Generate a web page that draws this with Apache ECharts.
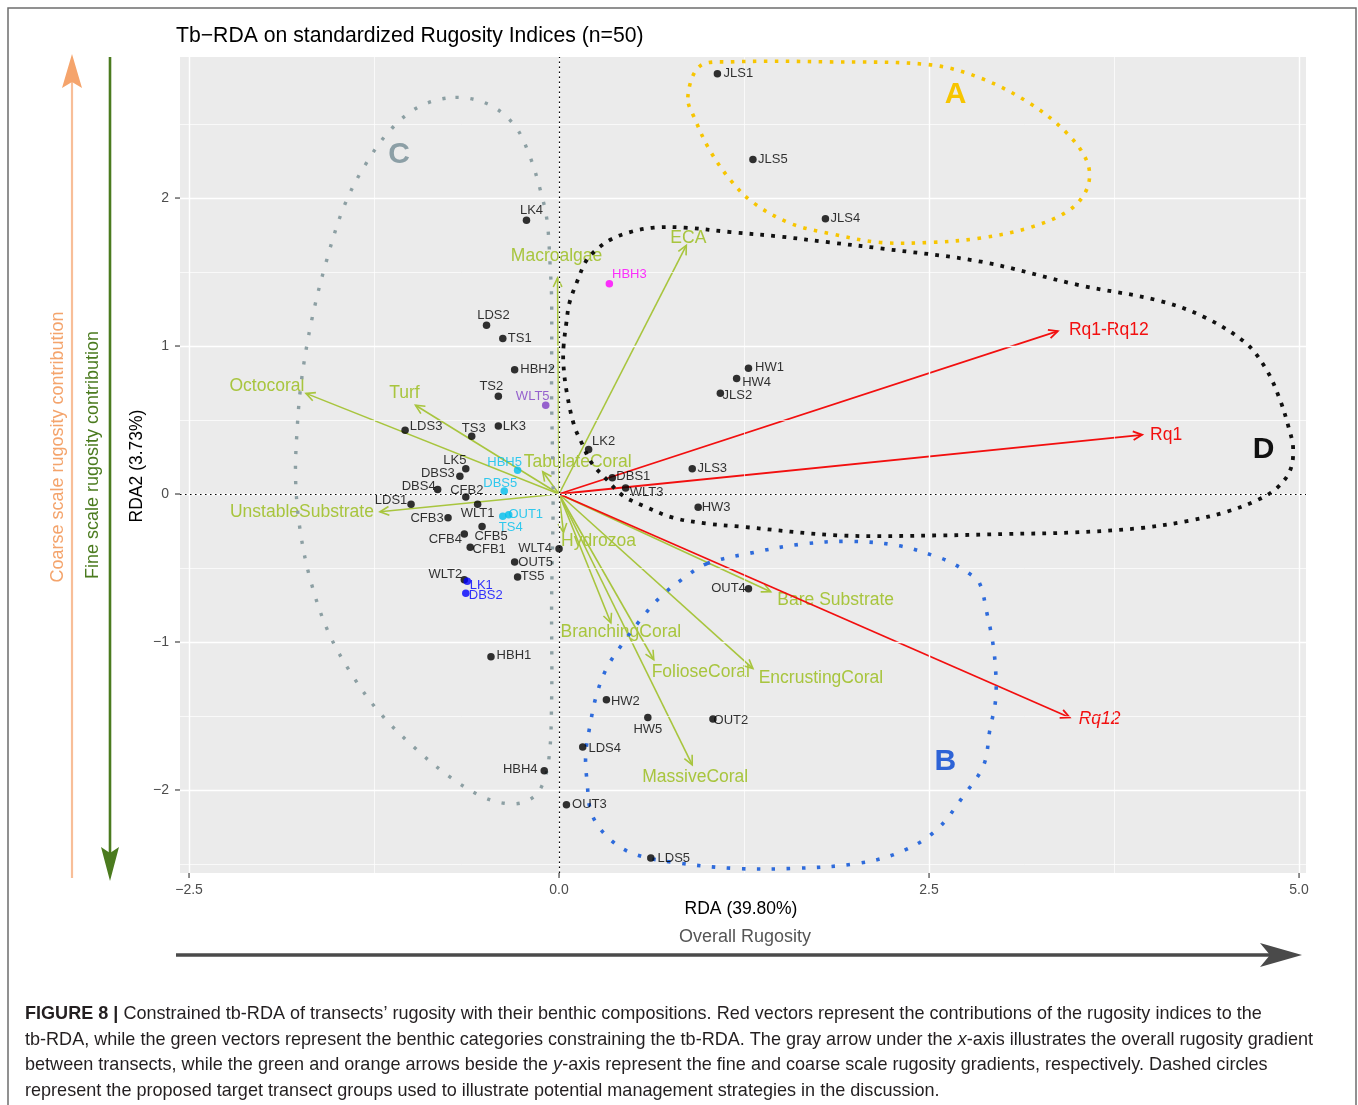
<!DOCTYPE html>
<html><head><meta charset="utf-8">
<script src="https://cdn.jsdelivr.net/npm/echarts@6/dist/echarts.min.js"></script>
<style>html,body{margin:0;padding:0;background:#fff}#main{width:1358px;height:1105px}</style>
</head><body><div id="main"></div><script>
// ---- Site scores (transects) on RDA1 / RDA2 ----
const siteNames = ['JLS1','JLS5','JLS4','LK4','HBH3','LDS2','TS1','HBH2','TS2','WLT5','LDS3','TS3','LK3','HW1','HW4','JLS2','LK2','JLS3','DBS1','WLT3','HW3','LK5','DBS3','DBS4','CFB2','LDS1','WLT1','CFB3','HBH5','DBS5','OUT1','TS4','CFB4','CFB5','CFB1','WLT4','OUT5','TS5','WLT2','LK1','DBS2','OUT4','HBH1','HW2','HW5','OUT2','LDS4','OUT3','LDS5','HBH4'];
const siteRDA1 = [1.07,1.31,1.80,-0.22,0.34,-0.49,-0.38,-0.30,-0.41,-0.09,-1.04,-0.59,-0.41,1.28,1.20,1.09,0.20,0.90,0.36,0.45,0.94,-0.63,-0.67,-0.82,-0.63,-1.00,-0.55,-0.75,-0.28,-0.37,-0.34,-0.38,-0.64,-0.52,-0.60,0.00,-0.30,-0.28,-0.64,-0.62,-0.63,1.28,-0.46,0.32,0.60,1.04,0.16,0.05,0.62,-0.10];
const siteRDA2 = [2.84,2.26,1.86,1.85,1.42,1.14,1.05,0.84,0.66,0.60,0.43,0.39,0.46,0.85,0.78,0.68,0.30,0.17,0.11,0.04,-0.09,0.17,0.12,0.03,-0.02,-0.07,-0.07,-0.16,0.16,0.02,-0.14,-0.15,-0.27,-0.22,-0.36,-0.37,-0.46,-0.56,-0.58,-0.59,-0.67,-0.64,-1.10,-1.39,-1.51,-1.52,-1.71,-2.10,-2.46,-1.87];

// ---- Benthic constraint vectors ----
const benthicNames = ['ECA','Macroalgae','Octocoral','Turf','TabulateCoral','UnstableSubstrate','Hydrozoa','BranchingCoral','FolioseCoral','EncrustingCoral','MassiveCoral','Bare Substrate'];
const benthicRDA1 = [0.86,-0.01,-1.71,-0.97,-0.11,-1.21,0.03,0.35,0.64,1.31,0.90,1.43];
const benthicRDA2 = [1.68,1.46,0.68,0.60,0.15,-0.12,-0.26,-0.87,-1.12,-1.18,-1.83,-0.66];

// ---- Rugosity index vectors ----
const rugosityNames = ['Rq1-Rq12','Rq1','Rq12'];
const rugosityRDA1 = [3.37,3.94,3.45];
const rugosityRDA2 = [1.10,0.40,-1.51];

// ---- Axis ticks ----
const xTicks = [-2.5, 0, 2.5, 5];
const yTicks = [-2, -1, 0, 1, 2];
const xMinor = [-1.25, 1.25, 3.75];
const yMinor = [-2.5, -1.5, -0.5, 0.5, 1.5, 2.5];

// ---- Management target groups (outline vertices, RDA units) ----
const groupA = [[0.87,2.68],[0.95,2.89],[1.16,2.92],[1.83,2.92],[2.51,2.90],[2.85,2.81],[3.18,2.64],[3.43,2.44],[3.57,2.24],[3.57,2.07],[3.45,1.92],[3.18,1.80],[2.85,1.73],[2.51,1.70],[2.17,1.70],[1.83,1.76],[1.56,1.83],[1.31,1.97],[1.16,2.12],[1.02,2.32],[0.92,2.53]];
const groupB = [[1.00,-0.47],[0.84,-0.57],[0.68,-0.70],[0.55,-0.85],[0.43,-1.01],[0.32,-1.18],[0.25,-1.37],[0.21,-1.56],[0.18,-1.76],[0.19,-1.95],[0.22,-2.16],[0.33,-2.32],[0.50,-2.43],[0.78,-2.49],[1.19,-2.53],[1.58,-2.53],[1.99,-2.50],[2.28,-2.43],[2.54,-2.28],[2.74,-2.03],[2.87,-1.83],[2.91,-1.60],[2.95,-1.39],[2.95,-1.19],[2.93,-1.00],[2.89,-0.80],[2.84,-0.60],[2.76,-0.53],[2.66,-0.47],[2.57,-0.43],[2.30,-0.35],[1.97,-0.32],[1.63,-0.34],[1.29,-0.40]];
const groupC = [[-0.70,2.68],[-0.47,2.63],[-0.30,2.49],[-0.20,2.29],[-0.12,2.03],[-0.08,1.84],[-0.06,1.54],[-0.05,1.31],[-0.05,0.64],[-0.04,-0.04],[-0.05,-0.72],[-0.05,-1.39],[-0.07,-1.80],[-0.13,-2.00],[-0.23,-2.08],[-0.37,-2.09],[-0.53,-2.04],[-0.74,-1.91],[-0.97,-1.72],[-1.21,-1.48],[-1.40,-1.22],[-1.56,-0.93],[-1.68,-0.58],[-1.75,-0.24],[-1.78,0.10],[-1.77,0.43],[-1.74,0.77],[-1.67,1.18],[-1.57,1.58],[-1.45,1.95],[-1.30,2.24],[-1.13,2.47],[-0.94,2.62]];
const groupD = [[0.03,0.99],[0.05,1.16],[0.07,1.29],[0.12,1.43],[0.18,1.57],[0.24,1.64],[0.35,1.72],[0.48,1.77],[0.64,1.80],[0.85,1.80],[1.16,1.77],[1.49,1.74],[1.83,1.70],[2.17,1.66],[2.85,1.57],[3.52,1.41],[4.04,1.31],[4.35,1.20],[4.64,1.02],[4.78,0.84],[4.87,0.64],[4.93,0.45],[4.96,0.31],[4.94,0.16],[4.85,0.04],[4.72,-0.04],[4.51,-0.12],[4.26,-0.18],[3.93,-0.23],[3.47,-0.26],[3.03,-0.27],[2.57,-0.28],[1.90,-0.28],[1.22,-0.22],[1.00,-0.20],[0.77,-0.16],[0.57,-0.08],[0.43,-0.01],[0.32,0.10],[0.22,0.21],[0.16,0.33],[0.10,0.47],[0.05,0.70],[0.03,0.87]];
const groupLetters = ['A','B','C','D'];
const groupLetterAt = [[2.68,2.70],[2.61,-1.81],[-1.08,2.29],[4.76,0.30]];

// ---- Styling ----
const FONT = "'Liberation Sans', Arial, Helvetica, sans-serif";
const GREEN = '#A8C53E';
const RED = '#F20F0F';
const groupStyle = [
  {stroke:'#F7C500', dash:[3.5,7.5], width:3.6, text:'#F7C500'},
  {stroke:'#2E6BDB', dash:[3.5,11.5], width:3.6, text:'#2E63D6'},
  {stroke:'#8C9FA3', dash:[3.2,11.8], width:3.4, text:'#8C9FA6'},
  {stroke:'#111111', dash:[3.8,7.2], width:3.8, text:'#111111'}
];
const siteColor = {HBH3:'#FF00FF', WLT5:'#7F3FC6', HBH5:'#00BFEE', DBS5:'#00BFEE', OUT1:'#00BFEE', TS4:'#00BFEE', LK1:'#0000FF', DBS2:'#0000FF'};
// label centre offsets from each point, px
const siteLabelShift = {
  JLS1:[21,0], JLS5:[20,0], JLS4:[20,0], LK4:[5,-10], HBH3:[20,-9], LDS2:[7,-10], TS1:[17,0], HBH2:[23,0],
  TS2:[-7,-10], WLT5:[-13,-9], LDS3:[21,-4], TS3:[2,-8], LK3:[16,0], HW1:[21,-1], HW4:[20,4], JLS2:[17,2],
  LK2:[15,-8], JLS3:[20,0], DBS1:[21,-1], WLT3:[21,4], HW3:[18,0], LK5:[-11,-8], DBS3:[-22,-3], DBS4:[-19,-3],
  CFB2:[1,-7], LDS1:[-20,-4], WLT1:[0,9], CFB3:[-21,1], HBH5:[-13,-8], DBS5:[-4,-8], OUT1:[17,0], TS4:[8,11],
  CFB4:[-19,5], CFB5:[9,10], CFB1:[19,2], WLT4:[-24,0], OUT5:[21,0], TS5:[15,0], WLT2:[-19,-5], LK1:[14,4],
  DBS2:[20,2], OUT4:[-20,0], HBH1:[23,-1], HW2:[19,2], HW5:[0,12], OUT2:[18,1], LDS4:[22,1], OUT3:[23,0],
  LDS5:[23,0], HBH4:[-24,-1]
};
const vectorLabelShift = {
  'ECA':[2,-7], 'Macroalgae':[-1,-22], 'Octocoral':[-39,-7], 'Turf':[-11,-12], 'TabulateCoral':[35,-10],
  'UnstableSubstrate':[-78,0], 'Hydrozoa':[35,9], 'BranchingCoral':[10,9], 'FolioseCoral':[47,12],
  'EncrustingCoral':[68,10], 'MassiveCoral':[3,12], 'Bare Substrate':[65,8],
  'Rq1-Rq12':[51,-1], 'Rq1':[24,0], 'Rq12':[30,2]
};
const italicLabels = {'Rq12': true};
const DOT = 7.5;
const X_MIN = -2.561, X_MAX = 5.047, Y_MIN = -2.561, Y_MAX = 2.953;

const minus = s => String(s).replace('-', '\u2212');

function vectorSeries(names, xs, ys, color, lw, z) {
  return {
    type: 'custom', coordinateSystem: 'cartesian2d', z: z, silent: true, animation: false,
    data: names.map((n, i) => [xs[i], ys[i]]),
    renderItem(params, api) {
      const i = params.dataIndex;
      const o = api.coord([0, 0]);
      const t = api.coord([api.value(0), api.value(1)]);
      const ang = Math.atan2(t[1] - o[1], t[0] - o[0]);
      const L = 10, a = Math.PI / 7;
      const h1 = [t[0] - L * Math.cos(ang - a), t[1] - L * Math.sin(ang - a)];
      const h2 = [t[0] - L * Math.cos(ang + a), t[1] - L * Math.sin(ang + a)];
      const sh = vectorLabelShift[names[i]] || [0, 0];
      return { type: 'group', children: [
        { type: 'line', shape: {x1: o[0], y1: o[1], x2: t[0], y2: t[1]}, style: {stroke: color, lineWidth: lw} },
        { type: 'polyline', shape: {points: [h1, t, h2]}, style: {stroke: color, lineWidth: lw, fill: 'none'} },
        { type: 'text', x: t[0] + sh[0], y: t[1] + sh[1], style: {
            text: names[i], fill: color, fontSize: 17.5, fontFamily: FONT,
            fontStyle: italicLabels[names[i]] ? 'italic' : 'normal',
            align: 'center', verticalAlign: 'middle', textAlign: 'center', textVerticalAlign: 'middle' } }
      ]};
    }
  };
}

// outward tick marks on both axes (x ticks, then y ticks)
const tickSeries = {
  type: 'custom', coordinateSystem: 'cartesian2d', z: 2, silent: true, animation: false, clip: false,
  data: xTicks.map(v => [v, Y_MIN, 0]).concat(yTicks.map(v => [X_MIN, v, 1])),
  renderItem(params, api) {
    const p = api.coord([api.value(0), api.value(1)]);
    const horiz = api.value(2) === 1;
    const shape = horiz ? {x1: p[0] - 5, y1: p[1], x2: p[0], y2: p[1]} : {x1: p[0], y1: p[1], x2: p[0], y2: p[1] + 5};
    return {type: 'line', shape: shape, style: {stroke: '#333333', lineWidth: 1.1}};
  }
};

const groups = [groupA, groupB, groupC, groupD];
const outlineSeries = {
  type: 'custom', coordinateSystem: 'cartesian2d', z: 6, silent: true, animation: false,
  data: groups.map((g, i) => [groupLetterAt[i][0], groupLetterAt[i][1], i]),
  renderItem(params, api) {
    const i = params.dataIndex;
    const st = groupStyle[i];
    const pts = groups[i].map(p => api.coord(p));
    const at = api.coord([api.value(0), api.value(1)]);
    return { type: 'group', children: [
      { type: 'polygon', shape: {points: pts, smooth: 0.35},
        style: {fill: 'none', stroke: st.stroke, lineWidth: st.width, lineDash: st.dash, lineCap: 'butt'} },
      { type: 'text', x: at[0], y: at[1], style: {
          text: groupLetters[i], fill: st.text, fontSize: 30, fontWeight: 'bold', fontFamily: FONT,
          align: 'center', verticalAlign: 'middle', textAlign: 'center', textVerticalAlign: 'middle'} }
    ]};
  }
};

// site points; labels sit at a fixed pixel shift from each dot
const siteData = siteNames.map((n, i) => {
  const c = siteColor[n] || '#000000';
  const sh = siteLabelShift[n] || [20, 0];
  return {
    name: n, value: [siteRDA1[i], siteRDA2[i]],
    itemStyle: {color: c},
    label: {show: true, position: [DOT / 2 + sh[0], DOT / 2 + sh[1]], color: c, formatter: '{b}',
            fontSize: 13, fontFamily: FONT, align: 'center', verticalAlign: 'middle'}
  };
});

const gridLines = [];
xTicks.forEach(v => gridLines.push({xAxis: v, lineStyle: {color: '#FFFFFF', width: 1.4, type: 'solid'}}));
yTicks.forEach(v => gridLines.push({yAxis: v, lineStyle: {color: '#FFFFFF', width: 1.4, type: 'solid'}}));
xMinor.forEach(v => gridLines.push({xAxis: v, lineStyle: {color: '#FFFFFF', width: 0.7, type: 'solid'}}));
yMinor.forEach(v => gridLines.push({yAxis: v, lineStyle: {color: '#FFFFFF', width: 0.7, type: 'solid'}}));

const captionLines = [
  ['FIGURE 8 |', ' Constrained tb-RDA of transects\u2019 rugosity with their benthic compositions. Red vectors represent the contributions of the rugosity indices to the'],
  ['', 'tb-RDA, while the green vectors represent the benthic categories constraining the tb-RDA. The gray arrow under the {i|x}-axis illustrates the overall rugosity gradient'],
  ['', 'between transects, while the green and orange arrows beside the {i|y}-axis represent the fine and coarse scale rugosity gradients, respectively. Dashed circles'],
  ['', 'represent the proposed target transect groups used to illustrate potential management strategies in the discussion.']
];
const CAPSIZE = 19;
// horizontal condensing of the caption face so line 2 spans its column
const measureCtx = document.createElement('canvas').getContext('2d');
measureCtx.font = CAPSIZE + 'px ' + FONT;
const line2Width = measureCtx.measureText(captionLines[1][1].replace(/\{i\|(.)\}/g, '$1')).width;
const capScale = 1288 / line2Width;

const graphics = [
  // frame
  {type: 'polyline', shape: {points: [[8, 1105], [8, 8], [1356, 8], [1356, 1105]]}, style: {stroke: '#6E6E6E', lineWidth: 1.5, fill: 'none'}, z: 10},
  // title
  {type: 'text', x: 176, y: 36, style: {text: 'Tb\u2212RDA on standardized Rugosity Indices (n=50)', fontSize: 21.2, fontFamily: FONT, fill: '#000', align: 'left', verticalAlign: 'middle'}},
  // axis titles
  {type: 'text', x: 741, y: 909, style: {text: 'RDA (39.80%)', fontSize: 17.5, fontFamily: FONT, fill: '#000', align: 'center', verticalAlign: 'middle'}},
  {type: 'text', x: 137, y: 466, rotation: Math.PI / 2, style: {text: 'RDA2 (3.73%)', fontSize: 17.5, fontFamily: FONT, fill: '#000', align: 'center', verticalAlign: 'middle'}},
  // overall rugosity gradient
  {type: 'text', x: 745, y: 937, style: {text: 'Overall Rugosity', fontSize: 18, fontFamily: FONT, fill: '#555555', align: 'center', verticalAlign: 'middle'}},
  {type: 'line', shape: {x1: 176, y1: 955, x2: 1275, y2: 955}, style: {stroke: '#4A4A4A', lineWidth: 3.5}},
  {type: 'polygon', shape: {points: [[1302, 955], [1260, 943], [1270, 955], [1260, 967]]}, style: {fill: '#4A4A4A'}},
  // coarse / fine gradients
  {type: 'line', shape: {x1: 72, y1: 878, x2: 72, y2: 80}, style: {stroke: '#F8BE98', lineWidth: 2.2}},
  {type: 'polygon', shape: {points: [[72, 54], [62, 88], [72, 82], [82, 88]]}, style: {fill: '#F5A46C'}},
  {type: 'line', shape: {x1: 110, y1: 57, x2: 110, y2: 855}, style: {stroke: '#4B7B1F', lineWidth: 2.6}},
  {type: 'polygon', shape: {points: [[110, 881], [101, 847], [110, 853], [119, 847]]}, style: {fill: '#4B7B1F'}},
  {type: 'text', x: 58, y: 447, rotation: Math.PI / 2, style: {text: 'Coarse scale rugosity contribution', fontSize: 18, fontFamily: FONT, fill: '#F4A46C', align: 'center', verticalAlign: 'middle'}},
  {type: 'text', x: 93, y: 455, rotation: Math.PI / 2, style: {text: 'Fine scale rugosity contribution', fontSize: 18, fontFamily: FONT, fill: '#4B7B1F', align: 'center', verticalAlign: 'middle'}}
];
captionLines.forEach((ln, k) => {
  const txt = (ln[0] ? '{b|' + ln[0] + '}' : '') + ln[1];
  graphics.push({type: 'text', x: 25, y: 1014 + k * 25.5, scaleX: capScale, style: {
    text: txt, fontSize: CAPSIZE, fontFamily: FONT, fill: '#231F20', align: 'left', verticalAlign: 'middle',
    rich: {b: {fontWeight: 'bold', fontSize: CAPSIZE, fontFamily: FONT, fill: '#231F20'},
           i: {fontStyle: 'italic', fontSize: CAPSIZE, fontFamily: FONT, fill: '#231F20'}}
  }});
});

const chart = echarts.init(document.getElementById('main'), null, {renderer: 'canvas'});
chart.setOption({
  animation: false,
  backgroundColor: '#FFFFFF',
  textStyle: {fontFamily: FONT},
  grid: {left: 180, top: 57, right: 52, bottom: 232, show: true, backgroundColor: '#EBEBEB', borderWidth: 0},
  xAxis: {
    type: 'value', min: X_MIN, max: X_MAX,
    axisLine: {show: false}, splitLine: {show: false}, axisTick: {show: false},
    axisLabel: {show: true, customValues: xTicks, margin: 10, fontSize: 14, color: '#4D4D4D', fontFamily: FONT,
                formatter: v => minus(Number(v).toFixed(1))}
  },
  yAxis: {
    type: 'value', min: Y_MIN, max: Y_MAX,
    axisLine: {show: false}, splitLine: {show: false}, axisTick: {show: false},
    axisLabel: {show: true, customValues: yTicks, margin: 11, fontSize: 14, color: '#4D4D4D', fontFamily: FONT,
                formatter: v => minus(Math.round(v))}
  },
  graphic: graphics,
  series: [
    {
      type: 'scatter', data: [], symbolSize: 0, z: 1, silent: true,
      markLine: {silent: true, symbol: ['none', 'none'], label: {show: false}, animation: false, data: gridLines}
    },
    {
      type: 'scatter', data: [], symbolSize: 0, z: 2, silent: true,
      markLine: {silent: true, symbol: ['none', 'none'], label: {show: false}, animation: false,
        lineStyle: {color: '#000', width: 1.2, type: [1.5, 3.5]},
        data: [{xAxis: 0}, {yAxis: 0}]}
    },
    tickSeries,
    vectorSeries(benthicNames, benthicRDA1, benthicRDA2, GREEN, 1.6, 4),
    vectorSeries(rugosityNames, rugosityRDA1, rugosityRDA2, RED, 1.8, 4),
    outlineSeries,
    {
      type: 'scatter', z: 7, silent: true, symbol: 'circle', symbolSize: DOT,
      data: siteData, labelLayout: {hideOverlap: false}
    }
  ]
});
</script></body></html>
